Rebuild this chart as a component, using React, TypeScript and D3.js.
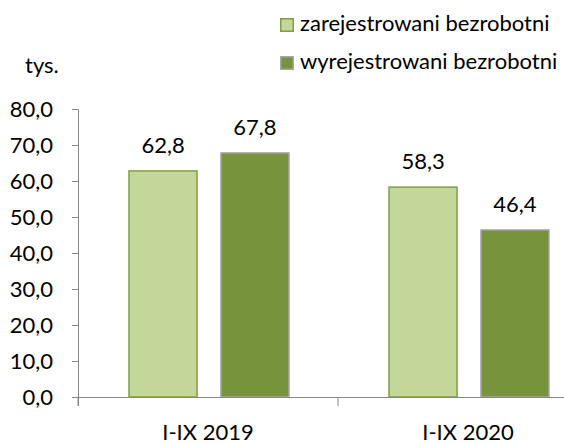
import React, { useEffect, useRef } from "react";
import * as d3 from "d3";

const categories = ["I-IX 2019", "I-IX 2020"];
const seriesNames = ["zarejestrowani bezrobotni", "wyrejestrowani bezrobotni"];
const registered = [62.8, 58.3];
const deregistered = [67.8, 46.4];
const yTicks = [0, 10, 20, 30, 40, 50, 60, 70, 80];

const fills = ["#c4d79b", "#77933c"];
const strokes = ["#7f9f45", "#a6a6a6"];
const font = "Lato, 'Open Sans', sans-serif";
const fs = 22;

export default function App() {
  const ref = useRef<SVGSVGElement>(null);

  useEffect(() => {
    const svg = d3.select(ref.current);
    svg.selectAll("*").remove();

    const x0 = d3.scaleBand().domain(categories).range([78, 598]);
    const x1 = d3.scaleBand().domain(seriesNames).range([51, 211]).paddingInner(0.26);
    const y = d3.scaleLinear().domain([0, 80]).range([397, 109]);

    const fmt = (v: number) => v.toFixed(1).replace(".", ",");

    // y axis
    const yAxis = svg.append("g").attr("transform", "translate(78,0)")
      .call(d3.axisLeft(y).tickValues(yTicks).tickSize(6).tickPadding(19).tickFormat((d) => fmt(+d)));
    yAxis.select(".domain").attr("stroke", "#868686").attr("d", "M-6,109.5H0.5V406");
    yAxis.selectAll(".tick line").attr("stroke", "#868686");
    yAxis.selectAll(".tick text").attr("font-family", font).attr("font-size", fs).attr("fill", "#000");

    // bars
    const rows = categories.map((c, i) => ({ c, vals: [registered[i], deregistered[i]] }));
    const groups = svg.selectAll(".grp").data(rows).join("g")
      .attr("transform", (d) => `translate(${x0(d.c)},0)`);
    groups.selectAll("rect").data((d) => d.vals.map((v, j) => ({ v, j })))
      .join("rect")
      .attr("x", (d) => x1(seriesNames[d.j])!)
      .attr("width", x1.bandwidth())
      .attr("y", (d) => y(d.v))
      .attr("height", (d) => y(0) - y(d.v))
      .attr("fill", (d) => fills[d.j])
      .attr("stroke", (d) => strokes[d.j])
      .attr("stroke-width", 1.5);
    groups.selectAll("text").data((d) => d.vals.map((v, j) => ({ v, j })))
      .join("text")
      .attr("x", (d) => x1(seriesNames[d.j])! + x1.bandwidth() / 2)
      .attr("y", (d) => y(d.v) - 18)
      .attr("text-anchor", "middle")
      .attr("font-family", font).attr("font-size", fs)
      .text((d) => fmt(d.v));

    // x axis
    const xAxis = svg.append("g").attr("transform", "translate(0,397)")
      .call(d3.axisBottom(x0).tickSize(9).tickPadding(18));
    xAxis.select(".domain").attr("stroke", "#868686").attr("d", "M72,0.5H600");
    xAxis.selectAll(".tick line").attr("stroke", "#868686").attr("transform", `translate(${-x0.bandwidth() / 2},0)`);
    xAxis.selectAll(".tick text").attr("font-family", font).attr("font-size", fs).attr("fill", "#000");

    // unit
    svg.append("text").attr("x", 25).attr("y", 73)
      .attr("font-family", font).attr("font-size", fs).text("tys.");

    // legend
    const leg = svg.selectAll(".leg").data(seriesNames).join("g")
      .attr("transform", (d, i) => `translate(280,${18 + i * 38})`);
    leg.append("rect").attr("x", 0.75).attr("y", 0.75).attr("width", 12.5).attr("height", 12.5)
      .attr("fill", (d, i) => fills[i]).attr("stroke", (d, i) => strokes[i]).attr("stroke-width", 1.5);
    leg.append("text").attr("x", 20).attr("y", 13)
      .attr("font-family", font).attr("font-size", fs).text((d) => d);
  }, []);

  return (
    <svg ref={ref} width={564} height={444}
      style={{ position: "absolute", left: 0, top: 0, background: "#fff" }} />
  );
}
